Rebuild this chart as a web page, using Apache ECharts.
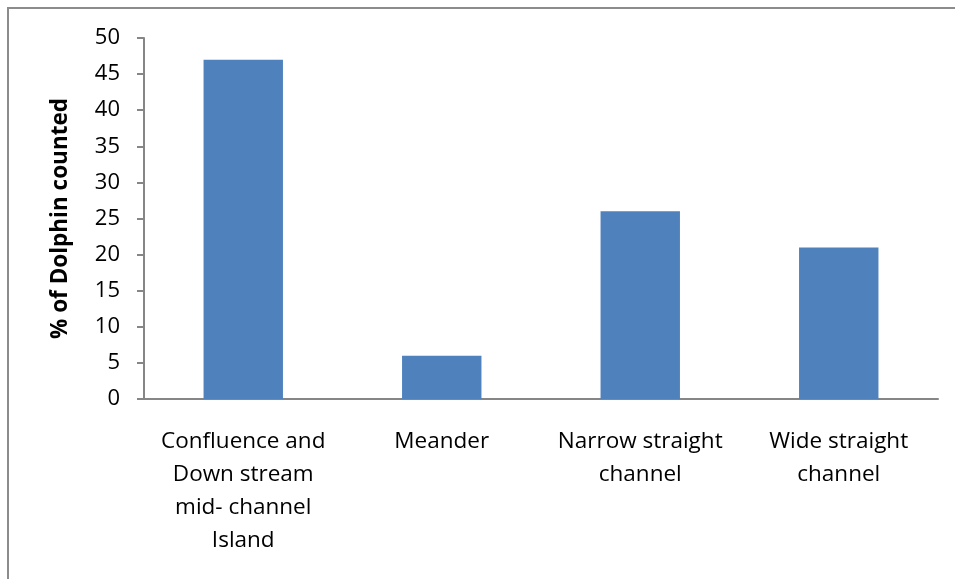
<!DOCTYPE html>
<html><head><meta charset="utf-8">
<script src="https://cdn.jsdelivr.net/npm/echarts@6/dist/echarts.min.js"></script>
<style>html,body{margin:0;padding:0;background:#fff;}#frame{position:absolute;left:7px;top:7px;width:960px;height:600px;border-left:2px solid #8c8c8c;border-top:2px solid #8c8c8c;box-sizing:border-box;}#c{position:absolute;left:0;top:0;width:955px;height:579px;}</style>
</head><body>
<div id="frame"></div>
<div id="c"></div>
<script>
const categories = ["Confluence and\nDown stream\nmid- channel\nIsland", "Meander", "Narrow straight\nchannel", "Wide straight\nchannel"];
const values = [47, 6, 26, 21];
const yTicks = [0, 5, 10, 15, 20, 25, 30, 35, 40, 45, 50];
const yName = "% of Dolphin counted";

const chart = echarts.init(document.getElementById('c'), null, {renderer: 'canvas'});
const font = "'Open Sans', 'Noto Sans', sans-serif";
chart.setOption({
  animation: false,
  grid: {left: 144, right: 17, top: 38, bottom: 180},
  xAxis: {
    type: 'category',
    data: categories,
    axisLine: {lineStyle: {color: '#868686', width: 2}},
    axisTick: {show: false},
    axisLabel: {color: '#000', fontSize: 22.5, fontFamily: font, lineHeight: 33, margin: 26, interval: 0}
  },
  yAxis: {
    type: 'value',
    min: yTicks[0], max: yTicks[yTicks.length - 1], interval: 5,
    name: yName,
    nameLocation: 'middle',
    nameGap: 72,
    nameRotate: 90,
    nameTextStyle: {color: '#000', fontSize: 22.5, fontWeight: 'bold', fontFamily: font},
    axisLine: {show: true, lineStyle: {color: '#868686', width: 2}},
    axisTick: {show: true, length: 7, lineStyle: {color: '#868686', width: 2}},
    splitLine: {show: false},
    axisLabel: {color: '#000', fontSize: 22, fontFamily: font, margin: 24}
  },
  series: [{
    type: 'bar',
    data: values,
    barWidth: '40%',
    itemStyle: {color: '#4F81BD'}
  }]
});
</script>
</body></html>
